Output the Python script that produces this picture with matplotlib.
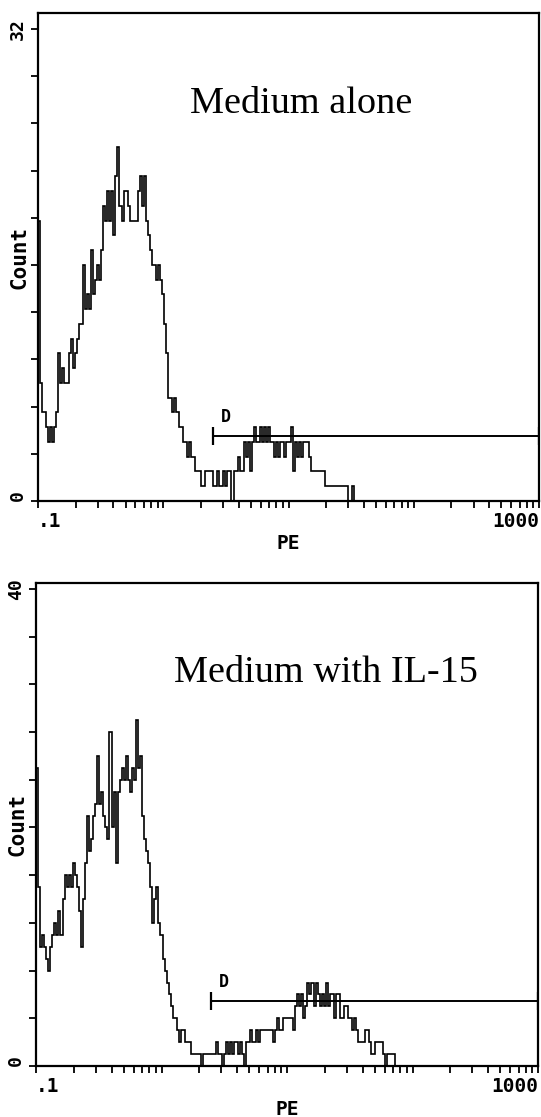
import numpy as np
import matplotlib.pyplot as plt

# counts per channel (channel 0 = lowest PE)
counts_alone = [
    19, 8, 6, 6, 5, 4, 5, 4, 5, 6, 10, 8, 9, 8, 8, 10, 11, 9, 10,
    11, 12, 12, 16, 13, 14, 13, 17, 14, 15, 16, 15, 17, 20, 19, 21, 19, 21, 18, 22,
    24, 20, 19, 21, 21, 20, 19, 19, 19, 19, 21, 22, 20, 22, 19, 18, 17, 16, 16, 15,
    16, 15, 14, 12, 10, 7, 7, 6, 7, 6, 5, 5, 4, 4, 3, 4, 3, 3, 2, 2,
    2, 1, 1, 2, 2, 2, 2, 1, 1, 2, 1, 1, 2, 1, 2, 2, 0, 2, 2, 3,
    2, 2, 4, 3, 4, 2, 4, 5, 4, 4, 5, 4, 5, 4, 5, 4, 4, 3, 4, 3,
    4, 4, 3, 4, 4, 5, 2, 4, 3, 4, 3, 4, 4, 4, 3, 2, 2, 2, 2, 2,
    2, 2, 1, 1, 1, 1, 1, 1, 1, 1, 1, 1, 1, 0, 0, 1, 0, 0]

counts_il15 = [
    25, 15, 10, 11, 10, 9, 8, 10, 11,
    12, 11, 13, 11, 14, 16, 15, 16, 15, 17,
    16, 15, 13, 10, 14, 17, 21, 18, 19, 21,
    22, 26, 22, 23, 21, 20, 19, 28, 20, 23,
    17, 23, 24, 25, 24, 26, 24, 23, 25, 24,
    29, 25, 26, 21, 19, 18, 17, 15, 12, 14,
    15, 12, 11, 9, 8, 7, 6, 5, 4, 4,
    3, 2, 3, 3, 2, 2, 2, 1, 1, 1,
    1, 1, 0, 1, 1, 1, 1, 1, 1, 2,
    1, 1, 0, 1, 2, 1, 2, 1, 2, 2,
    1, 2, 1, 0, 2, 2, 3, 2, 2, 3,
    2, 3, 3, 3, 3, 3, 3, 2, 3, 4,
    3, 3, 4, 4, 4, 4, 4, 3, 5, 6,
    5, 6, 4, 5, 7, 6, 7, 5, 7, 6,
    5, 6, 5, 7, 5, 6, 6, 4, 6, 6,
    4, 4, 5, 5, 4, 4, 3, 4, 3, 2,
    2, 2, 3, 3, 2, 1, 1, 2, 2, 2,
    2, 1, 0, 1, 1, 1, 1, 0]

titles = ["Medium alone", "Medium with IL-15"]
y_max = [32, 40]
gate_start = [2.5, 2.48]
gate_level = [4.4, 5.45]
gate_name = "D"
x_range = (0.1, 1000)
x_tick_text = [".1", "1000"]
bins_per_decade = 61.5

mono = "DejaVu Sans Mono"

fig = plt.figure(figsize=(5.41, 11.17), dpi=100)

# axes boxes in figure fraction (left, bottom, width, height)
rects = [[38 / 541, 1 - 501 / 1117, 501 / 541, 488 / 1117],
         [36 / 541, 1 - 1066 / 1117, 502 / 541, 483 / 1117]]
top_pad = [33.08, 40.5]
title_pos = [(0.525, 0.795), (0.577, 0.795)]
label_y = [-0.068, -0.070]

for k, counts in enumerate([counts_alone, counts_il15]):
    ax = fig.add_axes(rects[k])
    edges = x_range[0] * 10 ** (np.arange(len(counts) + 1) / bins_per_decade)
    ax.stairs(counts, edges, color="black", lw=1.2)

    ax.set_xscale("log")
    ax.set_xlim(*x_range)
    ax.set_ylim(0, top_pad[k])

    for s in ax.spines.values():
        s.set_linewidth(1.6)

    # x ticks: decades + minor 2..9
    ax.set_xticks([0.1, 1, 10, 100, 1000], [x_tick_text[0], "", "", "", x_tick_text[1]])
    ax.set_xticks([m * 10.0 ** d for d in range(-1, 3) for m in range(2, 10)], minor=True)
    ax.tick_params(axis="x", which="both", direction="out", length=5, width=1.3, pad=3)
    xl = ax.get_xticklabels()
    xl[0].set_ha("left")
    xl[-1].set_ha("right")
    for t in xl:
        t.set_fontfamily(mono)
        t.set_fontweight("bold")
        t.set_fontsize(14)

    # y ticks: 0 and max labelled, ten steps between
    ax.set_yticks([0, y_max[k]], ["0", str(y_max[k])])
    ax.set_yticks(np.linspace(0, y_max[k], 11), minor=True)
    ax.tick_params(axis="y", which="both", direction="out", length=5, width=1.3, pad=3)
    yl = ax.get_yticklabels()
    for t in yl:
        t.set_rotation(90)
        t.set_fontfamily(mono)
        t.set_fontweight("bold")
        t.set_fontsize(13)
    yl[0].set_va("bottom")
    yl[1].set_va("center")

    ax.set_xlabel("PE", fontfamily=mono, fontweight="bold", fontsize=14)
    ax.xaxis.set_label_coords(0.5, label_y[k])
    ax.set_ylabel("Count", fontfamily=mono, fontweight="bold", fontsize=15)
    ax.yaxis.set_label_coords(-0.016, 0.5)

    # gate marker
    cap = 0.0185 * top_pad[k]
    ax.hlines(gate_level[k], gate_start[k], x_range[1], color="black", lw=1.4)
    ax.vlines([gate_start[k], x_range[1]], gate_level[k] - cap, gate_level[k] + cap,
              color="black", lw=1.6)
    ax.annotate(gate_name, (gate_start[k], gate_level[k]), xytext=(9, 10),
                textcoords="offset points", ha="center", va="baseline",
                fontfamily=mono, fontweight="bold", fontsize=12)

    ax.text(title_pos[k][0], title_pos[k][1], titles[k], transform=ax.transAxes,
            ha="center", va="baseline", fontfamily="Liberation Serif", fontsize=27.5)

fig.savefig("out.png", dpi=100)
